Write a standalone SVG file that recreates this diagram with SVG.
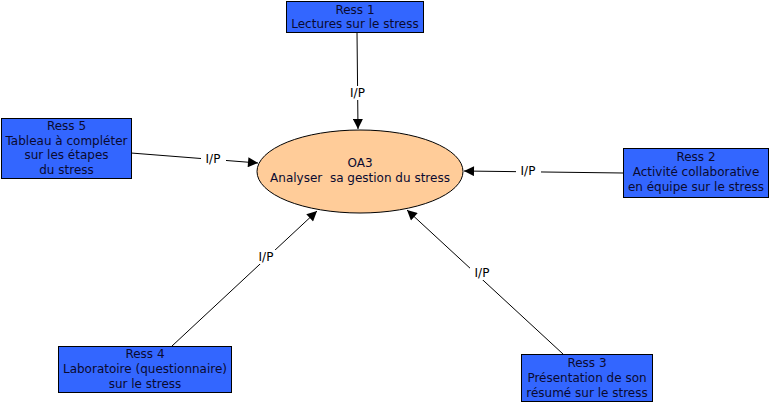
<svg xmlns="http://www.w3.org/2000/svg" width="770" height="403" viewBox="0 0 770 403">
<defs>
<marker id="arr" viewBox="0 0 10 10" refX="10" refY="5" markerWidth="11" markerHeight="10" markerUnits="userSpaceOnUse" orient="auto">
<path d="M0,0 L10,5 L0,10 z" fill="#000"/>
</marker>
</defs>
<style>
.box{fill:#3366FF;stroke:#000;stroke-width:1}
.t{font-family:"DejaVu Sans",Verdana,sans-serif;font-size:12px;fill:#0A0A30;text-anchor:middle;white-space:pre}
.lbl{font-family:"DejaVu Sans",Verdana,sans-serif;font-size:12px;fill:#000;text-anchor:middle}
.c{stroke:#000;stroke-width:1;fill:none;marker-end:url(#arr)}
.bg{fill:#fff}
</style>
<rect width="770" height="403" fill="#fff"/>
<g id="connectors">
<line class="c" x1="357" y1="32" x2="358" y2="129"/>
<line class="c" x1="131" y1="153" x2="258" y2="163"/>
<line class="c" x1="623" y1="173" x2="464" y2="171"/>
<line class="c" x1="172" y1="346" x2="317" y2="211"/>
<line class="c" x1="563" y1="354" x2="407" y2="210"/>
<rect class="bg" x="345" y="86" width="25" height="14"/>
<text class="lbl" x="357.5" y="97">I/P</text>
<rect class="bg" x="201" y="152" width="25" height="14"/>
<text class="lbl" x="213" y="163">I/P</text>
<rect class="bg" x="516" y="164" width="25" height="14"/>
<text class="lbl" x="528" y="175">I/P</text>
<rect class="bg" x="254" y="250" width="25" height="14"/>
<text class="lbl" x="266" y="261">I/P</text>
<rect class="bg" x="470" y="266" width="25" height="14"/>
<text class="lbl" x="482" y="277">I/P</text>
</g>
<g id="oa3">
<ellipse cx="360" cy="171.5" rx="103" ry="41.5" fill="#FFCC99" stroke="#000" stroke-width="1"/>
<text class="t" x="360" y="167">OA3</text>
<text class="t" x="360" y="182" xml:space="preserve">Analyser  sa gestion du stress</text>
</g>
<g id="ress1">
<rect class="box" x="286.5" y="1.5" width="137" height="31"/>
<text class="t" x="355" y="14">Ress 1</text>
<text class="t" x="355" y="28">Lectures sur le stress</text>
</g>
<g id="ress5">
<rect class="box" x="1.5" y="118.5" width="130" height="60"/>
<text class="t" x="66.5" y="130">Ress 5</text>
<text class="t" x="66.5" y="145">Tableau à compléter</text>
<text class="t" x="66.5" y="159">sur les étapes</text>
<text class="t" x="66.5" y="174">du stress</text>
</g>
<g id="ress2">
<rect class="box" x="623.5" y="148.5" width="145" height="49"/>
<text class="t" x="696" y="161">Ress 2</text>
<text class="t" x="696" y="176">Activité collaborative</text>
<text class="t" x="696" y="191">en équipe sur le stress</text>
</g>
<g id="ress4">
<rect class="box" x="58.5" y="346.5" width="173" height="46"/>
<text class="t" x="145" y="358">Ress 4</text>
<text class="t" x="145" y="373">Laboratoire (questionnaire)</text>
<text class="t" x="145" y="388">sur le stress</text>
</g>
<g id="ress3">
<rect class="box" x="521.5" y="354.5" width="131" height="47"/>
<text class="t" x="587" y="367">Ress 3</text>
<text class="t" x="587" y="382">Présentation de son</text>
<text class="t" x="587" y="397">résumé sur le stress</text>
</g>
</svg>
